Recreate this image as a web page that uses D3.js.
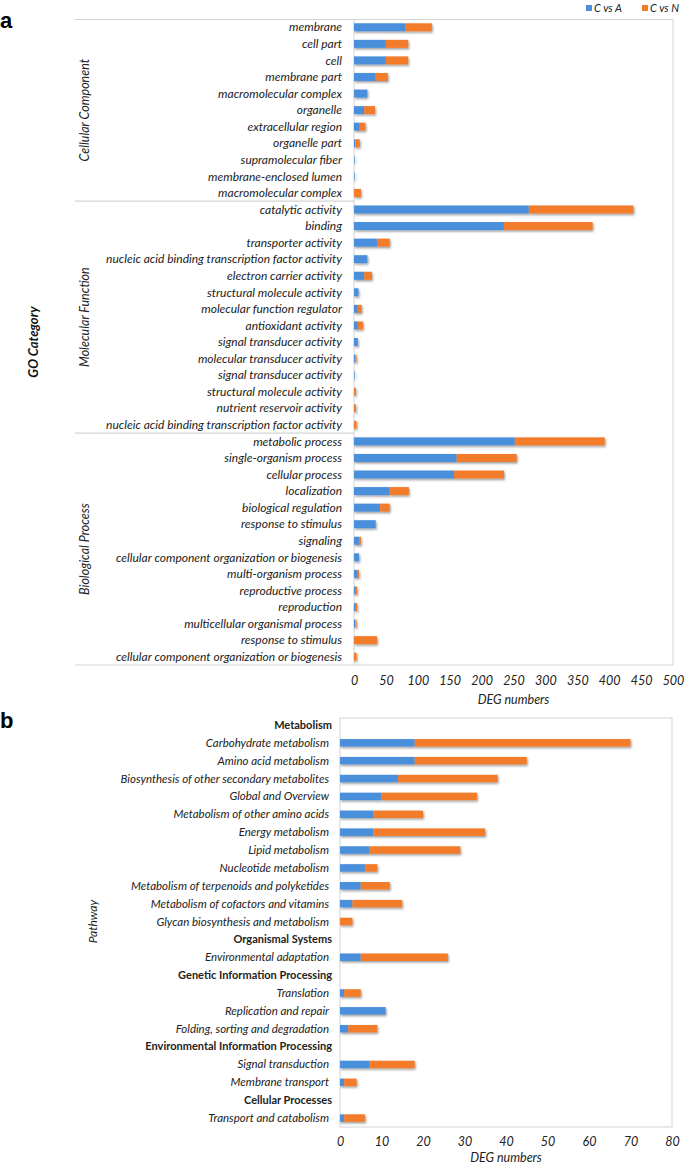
<!DOCTYPE html>
<html>
<head>
<meta charset="utf-8">
<script src="https://cdnjs.cloudflare.com/ajax/libs/d3/7.8.5/d3.min.js"></script>
<style>
  body { margin: 0; background: #fff; }
  text { font-family: Lato, "Open Sans", sans-serif; }
</style>
</head>
<body>
<script>
// ---- panel a: GO categories ----
var goGroups = ["Cellular Component", "Molecular Function", "Biological Process"];
var goGroupSizes = [11, 14, 14];
var goTerms = [
  "membrane", "cell part", "cell", "membrane part", "macromolecular complex", "organelle",
  "extracellular region", "organelle part", "supramolecular fiber", "membrane-enclosed lumen",
  "macromolecular complex",
  "catalytic activity", "binding", "transporter activity",
  "nucleic acid binding transcription factor activity", "electron carrier activity",
  "structural molecule activity", "molecular function regulator", "antioxidant activity",
  "signal transducer activity", "molecular transducer activity", "signal transducer activity",
  "structural molecule activity", "nutrient reservoir activity",
  "nucleic acid binding transcription factor activity",
  "metabolic process", "single-organism process", "cellular process", "localization",
  "biological regulation", "response to stimulus", "signaling",
  "cellular component organization or biogenesis", "multi-organism process",
  "reproductive process", "reproduction", "multicellular organismal process",
  "response to stimulus", "cellular component organization or biogenesis"
];
var goCvsA = [80, 50, 50, 33, 21, 16, 9, 2, 1, 1, 0,
              274, 235, 36, 21, 16, 7, 6, 6, 6, 2, 1, 0, 0, 0,
              252, 161, 157, 56, 41, 34, 8, 8, 6, 3, 3, 2, 0, 0];
var goCvsN = [42, 35, 35, 20, 0, 17, 9, 7, 0, 0, 11,
              164, 139, 20, 0, 12, 0, 6, 8, 0, 2, 0, 3, 3, 4,
              141, 94, 78, 30, 15, 0, 3, 0, 2, 2, 2, 2, 36, 4];
var goTicks = [0, 50, 100, 150, 200, 250, 300, 350, 400, 450, 500];

// ---- panel b: KEGG pathways (null = class header) ----
var pathNames = [
  "Metabolism", "Carbohydrate metabolism", "Amino acid metabolism",
  "Biosynthesis of other secondary metabolites", "Global and Overview",
  "Metabolism of other amino acids", "Energy metabolism", "Lipid metabolism",
  "Nucleotide metabolism", "Metabolism of terpenoids and polyketides",
  "Metabolism of cofactors and vitamins", "Glycan biosynthesis and metabolism",
  "Organismal Systems", "Environmental adaptation",
  "Genetic Information Processing", "Translation", "Replication and repair",
  "Folding, sorting and degradation",
  "Environmental Information Processing", "Signal transduction", "Membrane transport",
  "Cellular Processes", "Transport and catabolism"
];
var pathCvsA = [null, 18, 18, 14, 10, 8, 8, 7, 6, 5, 3, 0,
                null, 5, null, 1, 11, 2, null, 7, 1, null, 1];
var pathCvsN = [null, 52, 27, 24, 23, 12, 27, 22, 3, 7, 12, 3,
                null, 21, null, 4, 0, 7, null, 11, 3, null, 5];
var pathTicks = [0, 10, 20, 30, 40, 50, 60, 70, 80];

var seriesNames = ["C vs A", "C vs N"];
var colors = ["#4a8fdb", "#f27b2a"];

var W = 685, H = 1165;
var svg = d3.select("body").append("svg").attr("width", W).attr("height", H);

var defs = svg.append("defs");
defs.append("filter").attr("id", "shadow")
  .attr("x", "-20%").attr("y", "-50%").attr("width", "140%").attr("height", "220%")
  .append("feDropShadow")
  .attr("dx", 1).attr("dy", 1.5).attr("stdDeviation", 1)
  .attr("flood-color", "#000").attr("flood-opacity", 0.4);

var lineColor = "#d4d4d4";

// legend
seriesNames.forEach(function(s, i) {
  var lx = 586 + i * 56;
  svg.append("rect").attr("x", lx).attr("y", 5).attr("width", 6).attr("height", 6).attr("fill", colors[i]);
  svg.append("text").attr("x", lx + 8).attr("y", 12).attr("font-size", "11px")
    .attr("font-style", "italic").attr("fill", "#222").text(s);
});

function stackedBars(g, names, a, n, x, y, barH) {
  var rows = names.map(function(d, i) { return { i: i, a: a[i], n: n[i] }; })
    .filter(function(d) { return d.a !== null; });
  var bars = g.append("g").attr("filter", "url(#shadow)");
  bars.selectAll("rect.ca").data(rows).enter().append("rect")
    .attr("x", x(0))
    .attr("y", function(d) { return y(d.i) + (y.bandwidth() - barH) / 2; })
    .attr("width", function(d) { return x(d.a) - x(0); })
    .attr("height", barH)
    .attr("fill", colors[0]);
  bars.selectAll("rect.cn").data(rows).enter().append("rect")
    .attr("x", function(d) { return x(d.a); })
    .attr("y", function(d) { return y(d.i) + (y.bandwidth() - barH) / 2; })
    .attr("width", function(d) { return x(d.a + d.n) - x(d.a); })
    .attr("height", barH)
    .attr("fill", colors[1]);
}

function xAxis(g, x, ticks, yPos, titleY) {
  var ax = g.append("g").attr("transform", "translate(0," + yPos + ")")
    .call(d3.axisBottom(x).tickValues(ticks).tickSize(0).tickPadding(0));
  ax.select(".domain").remove();
  ax.selectAll("text").attr("font-size", "12.5px").attr("font-style", "italic")
    .attr("fill", "#222").attr("font-family", "Lato, sans-serif");
  g.append("text").attr("x", (x.range()[0] + x.range()[1]) / 2).attr("y", titleY)
    .attr("text-anchor", "middle").attr("font-size", "12.5px").attr("font-style", "italic")
    .attr("fill", "#222").text("DEG numbers");
}

// ================= panel a =================
var ga = svg.append("g");
var xa = d3.scaleLinear().domain([0, 500]).range([354, 673]);
var ya = d3.scaleBand().domain(d3.range(goTerms.length)).range([19, 665]);

ga.append("text").attr("x", 0).attr("y", 28).attr("font-size", "22px").attr("font-weight", "bold")
  .style("font-family", "Liberation Sans, Arial, sans-serif").text("a");

// frame
ga.append("line").attr("x1", 75).attr("x2", 673).attr("y1", 19.5).attr("y2", 19.5).attr("stroke", lineColor);
ga.append("line").attr("x1", 673).attr("x2", 673).attr("y1", 19.5).attr("y2", 665).attr("stroke", lineColor);
ga.append("line").attr("x1", 75).attr("x2", 673).attr("y1", 665).attr("y2", 665).attr("stroke", lineColor);
ga.append("line").attr("x1", 354).attr("x2", 354).attr("y1", 19.5).attr("y2", 665).attr("stroke", lineColor);

var start = 0;
goGroups.forEach(function(grp, k) {
  var y0 = ya(start), y1 = ya(start + goGroupSizes[k] - 1) + ya.bandwidth();
  if (k > 0) {
    ga.append("line").attr("x1", 75).attr("x2", 354).attr("y1", y0).attr("y2", y0)
      .attr("stroke", lineColor).attr("stroke-width", 1.2);
  }
  ga.append("text")
    .attr("transform", "translate(89," + ((y0 + y1) / 2) + ") rotate(-90)")
    .attr("text-anchor", "middle").attr("font-size", "12.5px").attr("font-style", "italic")
    .attr("fill", "#222").text(grp);
  start += goGroupSizes[k];
});

ga.append("text")
  .attr("transform", "translate(38," + ((19 + 665) / 2) + ") rotate(-90)")
  .attr("text-anchor", "middle").attr("font-size", "13px").attr("font-style", "italic")
  .attr("font-weight", "bold").attr("fill", "#111").text("GO Category");

ga.selectAll("text.lab").data(goTerms).enter().append("text")
  .attr("x", 342)
  .attr("y", function(d, i) { return ya(i) + ya.bandwidth() / 2; })
  .attr("dy", "0.35em")
  .attr("text-anchor", "end").attr("font-size", "12px").attr("font-style", "italic")
  .attr("fill", "#222").text(function(d) { return d; });

stackedBars(ga, goTerms, goCvsA, goCvsN, xa, ya, 8);
xAxis(ga, xa, goTicks, 676, 704);

// ================= panel b =================
var gb = svg.append("g");
var xb = d3.scaleLinear().domain([0, 80]).range([340, 672]);
var yb = d3.scaleBand().domain(d3.range(pathNames.length)).range([716, 1127]);

gb.append("text").attr("x", 0).attr("y", 728).attr("font-size", "22px").attr("font-weight", "bold")
  .style("font-family", "Liberation Sans, Arial, sans-serif").text("b");

gb.append("rect").attr("x", 340).attr("y", 718).attr("width", 332).attr("height", 409)
  .attr("fill", "none").attr("stroke", lineColor);

gb.append("text")
  .attr("transform", "translate(97," + ((716 + 1127) / 2) + ") rotate(-90)")
  .attr("text-anchor", "middle").attr("font-size", "12px").attr("font-style", "italic")
  .attr("fill", "#222").text("Pathway");

gb.selectAll("text.lab").data(pathNames).enter().append("text")
  .attr("x", function(d, i) { return pathCvsA[i] === null ? 332 : 329; })
  .attr("y", function(d, i) { return yb(i) + yb.bandwidth() / 2; })
  .attr("dy", "0.35em")
  .attr("text-anchor", "end")
  .attr("font-size", function(d, i) { return pathCvsA[i] === null ? "11px" : "11.5px"; })
  .attr("font-style", function(d, i) { return pathCvsA[i] === null ? "normal" : "italic"; })
  .attr("font-weight", function(d, i) { return pathCvsA[i] === null ? "bold" : "normal"; })
  .attr("fill", "#222").text(function(d) { return d; });

stackedBars(gb, pathNames, pathCvsA, pathCvsN, xb, yb, 7.5);
xAxis(gb, xb, pathTicks, 1137, 1162);
</script>
</body>
</html>
